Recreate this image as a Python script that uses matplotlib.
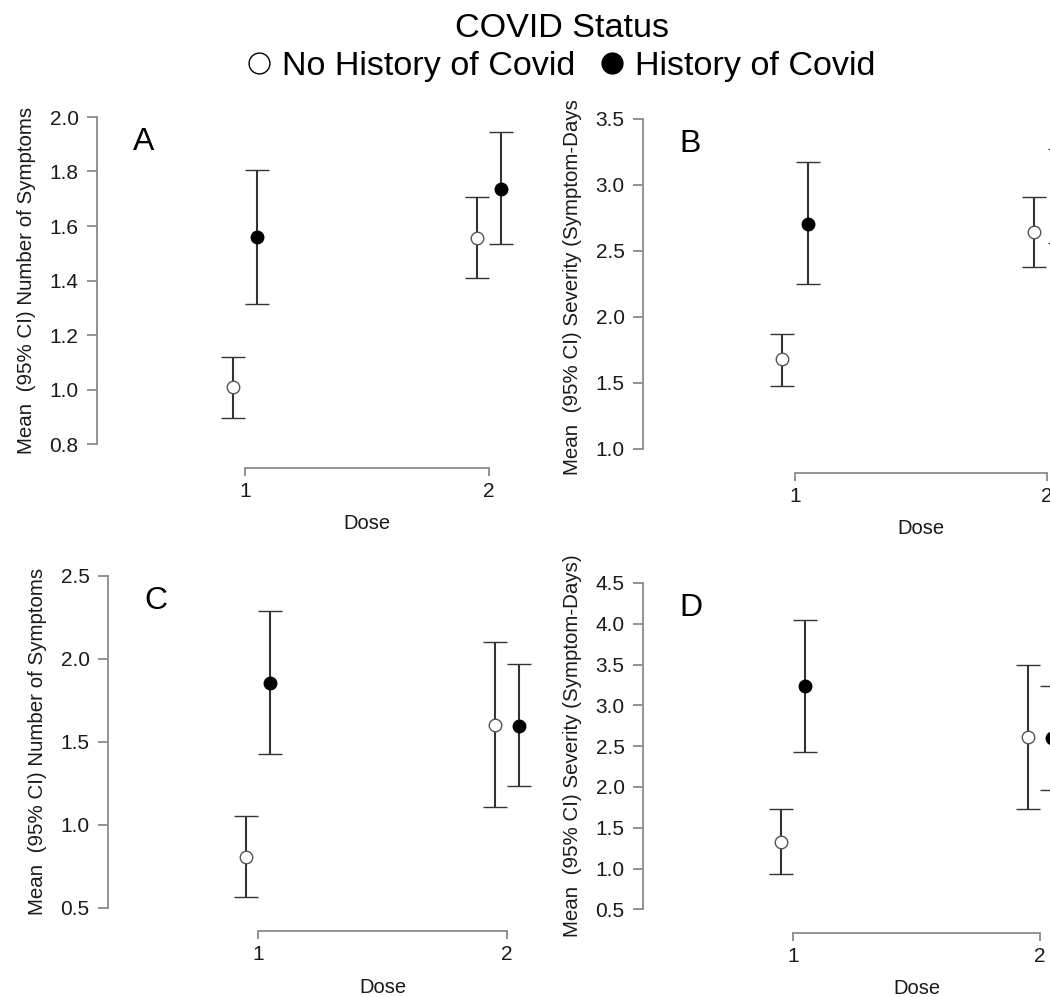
import matplotlib
matplotlib.use('Agg')
import matplotlib.pyplot as plt
from matplotlib.lines import Line2D
from matplotlib.patches import Rectangle
import numpy as np

plt.rcParams['font.family'] = ['Liberation Sans', 'DejaVu Sans']

# data
dose = [1, 2]
groups = ['No History of Covid', 'History of Covid']

a_no_mean = [1.01, 1.556]
a_no_lo = [0.895, 1.409]
a_no_hi = [1.12, 1.706]
a_yes_mean = [1.56, 1.736]
a_yes_lo = [1.314, 1.534]
a_yes_hi = [1.806, 1.944]

b_no_mean = [1.68, 2.641]
b_no_lo = [1.48, 2.381]
b_no_hi = [1.871, 2.911]
b_yes_mean = [2.705, 2.92]
b_yes_lo = [2.25, 2.56]
b_yes_hi = [3.174, 3.27]

c_no_mean = [0.805, 1.602]
c_no_lo = [0.563, 1.109]
c_no_hi = [1.052, 2.099]
c_yes_mean = [1.852, 1.595]
c_yes_lo = [1.428, 1.231]
c_yes_hi = [2.286, 1.966]

d_no_mean = [1.322, 2.609]
d_no_lo = [0.934, 1.734]
d_no_hi = [1.727, 3.491]
d_yes_mean = [3.234, 2.6]
d_yes_lo = [2.429, 1.963]
d_yes_hi = [4.043, 3.241]

label_n = 'Mean  (95% CI) Number of Symptoms'
label_s = 'Mean  (95% CI) Severity (Symptom-Days)'

W, H = 1050, 997
fig = plt.figure(figsize=(W / 100, H / 100), dpi=100)

GRAY = '#8a8a8a'
BAR = '#333333'
TXT = '#1a1a1a'
DODGE = 0.05


def make_panel(letter, spine_px, x1_px, x2_px, ytop_px, ybot_px, ylim, ystep, ylabel,
               no_mean, no_lo, no_hi, yes_mean, yes_lo, yes_hi):
    scale = x2_px - x1_px
    xlo = 1 - (x1_px - spine_px) / scale
    xhi = 2.2
    right_px = x2_px + (xhi - 2) * scale
    ax = fig.add_axes([spine_px / W, 1 - ybot_px / H,
                       (right_px - spine_px) / W, (ybot_px - ytop_px) / H])
    ax.set_xlim(xlo, xhi)
    ax.set_ylim(*ylim)

    x = np.array(dose, dtype=float)
    for xs, m, lo, hi, face, edge in [
        (x - DODGE, no_mean, no_lo, no_hi, 'white', '#555555'),
        (x + DODGE, yes_mean, yes_lo, yes_hi, 'black', 'black'),
    ]:
        m = np.array(m)
        err = [m - np.array(lo), np.array(hi) - m]
        ax.errorbar(xs, m, yerr=err, fmt='o', color=BAR, ecolor=BAR, elinewidth=1.5,
                    capsize=8.4, capthick=1.5, markersize=9, markerfacecolor=face,
                    markeredgecolor=edge, markeredgewidth=1.0, clip_on=False, zorder=3)

    for s in ['top', 'right']:
        ax.spines[s].set_visible(False)
    for s in ['left', 'bottom']:
        ax.spines[s].set_color(GRAY)
        ax.spines[s].set_linewidth(1.3)
    ax.spines['bottom'].set_position(('outward', 17))
    ax.spines['bottom'].set_bounds(1, 2)

    ax.set_yticks(np.arange(ylim[0], ylim[1] + ystep / 2, ystep))
    ax.yaxis.set_major_formatter(matplotlib.ticker.FormatStrFormatter('%.1f'))
    ax.set_xticks(dose)
    ax.tick_params(axis='y', length=7.2, width=1.3, color=GRAY, pad=6, labelsize=15,
                   labelcolor=TXT)
    ax.tick_params(axis='x', length=6, width=1.3, color=GRAY, pad=4, labelsize=15,
                   labelcolor=TXT)

    w_px = right_px - spine_px
    h_px = ybot_px - ytop_px
    ax.set_ylabel(ylabel, fontsize=14.8, color=TXT)
    ax.yaxis.set_label_coords(-61 / w_px, 0.5)
    ax.set_xlabel('Dose', fontsize=14.5, color=TXT)
    ax.xaxis.set_label_coords((1.5 - xlo) / (xhi - xlo), -70 / h_px)

    ax.text(36 / w_px, 1 - 33 / h_px, letter, transform=ax.transAxes, fontsize=23,
            ha='left', va='baseline')
    return ax


make_panel('A', 97, 245, 489, 117, 444, (0.8, 2.0), 0.2, label_n,
           a_no_mean, a_no_lo, a_no_hi, a_yes_mean, a_yes_lo, a_yes_hi)
make_panel('B', 643, 795, 1047, 119, 449, (1.0, 3.5), 0.5, label_s,
           b_no_mean, b_no_lo, b_no_hi, b_yes_mean, b_yes_lo, b_yes_hi)
make_panel('C', 108, 258, 507, 575.7, 907.7, (0.5, 2.5), 0.5, label_n,
           c_no_mean, c_no_lo, c_no_hi, c_yes_mean, c_yes_lo, c_yes_hi)
make_panel('D', 643, 793, 1040, 583, 909.3, (0.5, 4.5), 0.5, label_s,
           d_no_mean, d_no_lo, d_no_hi, d_yes_mean, d_yes_lo, d_yes_hi)

# white band at the top (the source image was cropped there)
band = Rectangle((0, 1 - 101 / H), 1, 101 / H, transform=fig.transFigure,
                 facecolor='white', edgecolor='none', zorder=5)
fig.patches.append(band)

handles = [
    Line2D([], [], linestyle='none', marker='o', markersize=15, markerfacecolor='white',
           markeredgecolor='black', markeredgewidth=1.0),
    Line2D([], [], linestyle='none', marker='o', markersize=15, markerfacecolor='black',
           markeredgecolor='black'),
]
leg = fig.legend(handles, groups, loc='upper center', bbox_to_anchor=(562 / W, 1 - 13 / H),
                 ncol=2, title='COVID Status', frameon=False, fontsize=24.6,
                 title_fontsize=24.6, handlelength=0.6, handletextpad=0.36,
                 columnspacing=0.78, borderpad=0, borderaxespad=0, labelspacing=0.2)
leg.set_zorder(10)

fig.savefig('out.png', dpi=100)
